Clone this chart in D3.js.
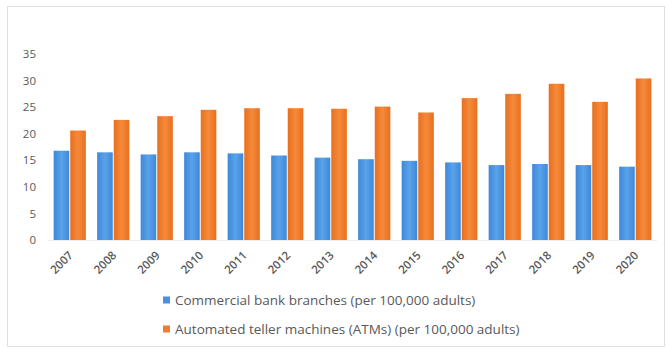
<!DOCTYPE html>
<html>
<head>
<meta charset="utf-8">
<script src="https://cdn.jsdelivr.net/npm/d3@7"></script>
<style>
  html, body { margin: 0; padding: 0; background: #fff; }
  svg { display: block; }
</style>
</head>
<body>
<svg id="chart" width="667" height="354"></svg>
<script>
const years = ["2007","2008","2009","2010","2011","2012","2013","2014","2015","2016","2017","2018","2019","2020"];
const branches = [16.8, 16.5, 16.1, 16.5, 16.3, 15.9, 15.5, 15.2, 14.9, 14.6, 14.1, 14.3, 14.1, 13.8];
const atms = [20.6, 22.6, 23.3, 24.5, 24.8, 24.8, 24.7, 25.1, 24.0, 26.7, 27.5, 29.4, 26.0, 30.4];
const seriesNames = ["Commercial bank branches (per 100,000 adults)", "Automated teller machines (ATMs) (per 100,000 adults)"];
const yTicks = [0, 5, 10, 15, 20, 25, 30, 35];

const svg = d3.select("#chart");
const W = 667, H = 354;
svg.append("rect").attr("x", 0).attr("y", 0).attr("width", W).attr("height", H).attr("fill", "#fff");
svg.append("rect").attr("x", 7.5).attr("y", 6.5).attr("width", 657).attr("height", 340)
  .attr("fill", "none").attr("stroke", "#e0e0e0").attr("stroke-width", 1);

const defs = svg.append("defs");
const g1 = defs.append("linearGradient").attr("id", "gBlue").attr("x1", 0).attr("x2", 1).attr("y1", 0).attr("y2", 0);
g1.append("stop").attr("offset", "0%").attr("stop-color", "#3d88d8");
g1.append("stop").attr("offset", "50%").attr("stop-color", "#5aa2ea");
g1.append("stop").attr("offset", "100%").attr("stop-color", "#3d88d8");
const g2 = defs.append("linearGradient").attr("id", "gOrange").attr("x1", 0).attr("x2", 1).attr("y1", 0).attr("y2", 0);
g2.append("stop").attr("offset", "0%").attr("stop-color", "#e86f1e");
g2.append("stop").attr("offset", "50%").attr("stop-color", "#f58a3a");
g2.append("stop").attr("offset", "100%").attr("stop-color", "#e86f1e");
const fills = ["url(#gBlue)", "url(#gOrange)"];
const legendColors = ["#4a90dd", "#ee7d31"];

const x = d3.scaleBand().domain(years).range([48, 657]).paddingInner(0.26).paddingOuter(0.13);
const xs = d3.scaleBand().domain([0, 1]).range([0, x.bandwidth()]).paddingInner(0.06);
const y = d3.scaleLinear().domain([0, 35]).range([240, 54]);

// x axis baseline
svg.append("line").attr("x1", 48).attr("x2", 657).attr("y1", y(0) + 0.5).attr("y2", y(0) + 0.5)
  .attr("stroke", "#eeeeee");

// y axis labels
const yAxis = d3.axisLeft(y).tickValues(yTicks).tickSize(0).tickPadding(0);
const yg = svg.append("g").attr("transform", "translate(36,0)").call(yAxis);
yg.select(".domain").remove();
yg.selectAll("text").attr("font-family", "'Open Sans', sans-serif").attr("font-size", 11.5).attr("fill", "#595959");

// bars
const data = years.map((yr, i) => ({ year: yr, vals: [branches[i], atms[i]] }));
const groups = svg.append("g").selectAll("g").data(data).join("g")
  .attr("transform", d => `translate(${x(d.year)},0)`);
groups.selectAll("rect").data(d => d.vals.map((v, k) => ({ v, k }))).join("rect")
  .attr("x", d => xs(d.k)).attr("width", xs.bandwidth())
  .attr("y", d => y(d.v)).attr("height", d => y(0) - y(d.v))
  .attr("fill", d => fills[d.k]);

// x axis labels
const xAxis = d3.axisBottom(x).tickSize(0).tickPadding(0);
const xg = svg.append("g").attr("transform", `translate(0,${y(0)})`).call(xAxis);
xg.select(".domain").remove();
xg.selectAll("text")
  .attr("font-family", "'Open Sans', sans-serif").attr("font-size", 11.5).attr("font-weight", 600).attr("fill", "#595959")
  .attr("text-anchor", "end").attr("dy", 0)
  .attr("transform", "translate(4,16) rotate(-45)");

// legend
const legend = svg.append("g");
const rows = [300, 329];
seriesNames.forEach((name, i) => {
  legend.append("rect").attr("x", 163).attr("y", rows[i] - 3.5).attr("width", 7).attr("height", 7).attr("fill", legendColors[i]);
  legend.append("text").attr("x", 175).attr("y", rows[i]).attr("dy", "0.35em")
    .attr("font-family", "'Open Sans', sans-serif").attr("font-size", 13.5).attr("fill", "#595959")
    .text(name);
});
</script>
</body>
</html>
